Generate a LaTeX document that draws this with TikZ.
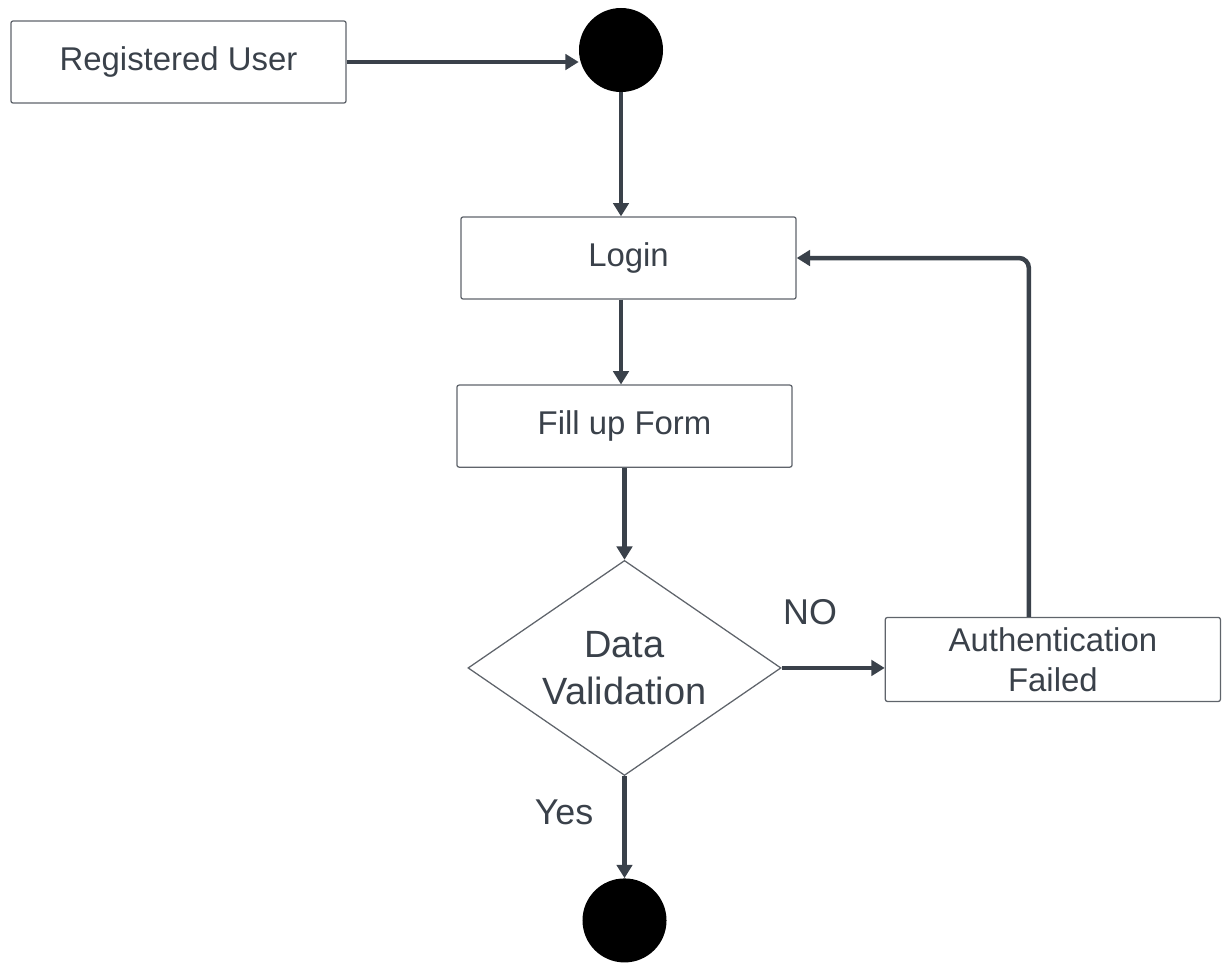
\documentclass[tikz,border=0pt]{standalone}
\usepackage{fontspec}
\setmainfont{Liberation Sans}
\usetikzlibrary{positioning,shapes.geometric,arrows.meta}
\definecolor{ink}{HTML}{3A414A}
\definecolor{rim}{HTML}{5F646B}

\begin{document}
\begin{tikzpicture}[x=0.025cm, y=-0.025cm,
  act node/.style={rectangle, draw=rim, line width=0.9pt, rounded corners=1.5pt, minimum width=8.375cm, minimum height=2.05cm, inner sep=0pt, text=ink, align=center, font=\fontsize{23.4}{28.3}\selectfont},
  dec node/.style={diamond, draw=rim, line width=0.9pt, shape aspect=1.456, minimum width=7.825cm, minimum height=5.375cm, inner sep=0pt, text=ink, align=center, font=\fontsize{27}{33.3}\selectfont},
  dot node/.style={circle, fill=black, minimum size=2.1cm, inner sep=0pt},
  flow/.style={-{Triangle[length=9.5pt,width=11pt]}, draw=ink, line width=3.2pt},
  tag/.style={text=ink, font=\fontsize{25.5}{30}\selectfont}]

          \useasboundingbox (0,0) rectangle (1228,963);

          \node[act node] (user) at (178.5,62) {Registered User};
          \node[dot node] (start) at (621,50) {};
          \node[act node] (login) at (628.5,258) {Login};
          \node[act node] (form) [below=2.12cm of login, xshift=-0.1cm] {Fill up Form};
          \node[dec node] (check) [below=2.3cm of form] {Data\\Validation};
          \node[act node, minimum height=2.1cm] (auth) [right=2.575cm of check, yshift=0.2125cm] {Authentication\\Failed};
          \node[dot node] (stop) [below=2.55cm of check] {};

          \node[tag] (no) at (810,612) {NO};
          \node[tag] (yes) at (564,812) {Yes};

          \draw[flow] (user.east) -- (user.east -| start.west);
          \draw[flow] (start.south) -- (start.south |- login.north);
          \draw[flow] (start.south |- login.south) -- (start.south |- form.north);
          \draw[flow] (form.south -| check.north) -- (check.north);

          \draw[flow] (check.east) -- (check.east -| auth.west);
          \draw[flow, rounded corners=0.25cm] ([xshift=-0.6cm]auth.north) |- (login.east);

          \draw[flow] (check.south) -- (stop.north);

        \end{tikzpicture}
\end{document}
